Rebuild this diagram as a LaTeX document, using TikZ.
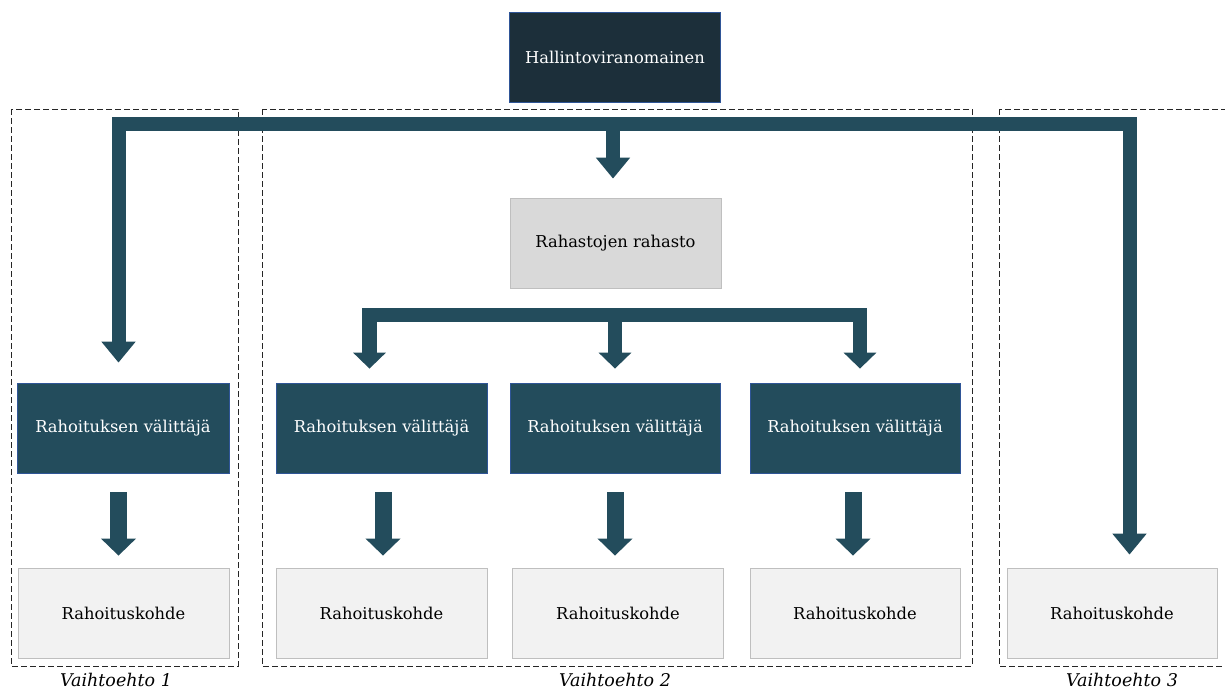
\documentclass[tikz,border=0pt]{standalone}
\usepackage{fontspec}
\setmainfont{DejaVu Serif}
\usetikzlibrary{arrows.meta}
\definecolor{topfill}{HTML}{1C2F3A}
\definecolor{teal}{HTML}{234C5C}
\definecolor{edgeblue}{HTML}{2F5597}
\definecolor{grayfill}{HTML}{D9D9D9}
\definecolor{lightfill}{HTML}{F2F2F2}
\definecolor{grayedge}{HTML}{BFBFBF}
\tikzset{
  boxbase/.style={minimum width=211pt, minimum height=90pt, inner sep=0pt, font=\fontsize{16.3}{18}\selectfont},
  topbox/.style={boxbase, fill=topfill, draw=edgeblue, line width=0.8pt, text=white},
  fundbox/.style={boxbase, fill=grayfill, draw=grayedge, line width=0.8pt, text=black},
  midbox/.style={boxbase, fill=teal, draw=edgeblue, line width=0.8pt, text=white},
  leafbox/.style={boxbase, fill=lightfill, draw=grayedge, line width=0.8pt, text=black},
  groupbox/.style={draw=black!85, line width=0.8pt, dash pattern=on 6pt off 3pt},
  grouplabel/.style={font=\fontsize{17.5}{19}\selectfont\itshape, inner sep=0pt},
  bigarrow/.style={draw=teal, line width=14pt, line join=miter, line cap=butt, -{Triangle[width=33pt,length=21pt]}},
  midarrow/.style={draw=teal, line width=14.5pt, line join=miter, line cap=butt, -{Triangle[width=32pt,length=16pt]}},
  smallarrow/.style={draw=teal, line width=17pt, line cap=butt, -{Triangle[width=34pt,length=17pt]}},
}
\begin{document}
\begin{tikzpicture}[x=1pt,y=-1pt]
\useasboundingbox (0,0) rectangle (1225,689);
\clip (0,0) rectangle (1225,689);
% group frames
\draw[groupbox] (11,109) rectangle (238,666);
\draw[groupbox] (262,109) rectangle (972,666);
\draw[groupbox] (999,109) rectangle (1240,666);
\node[grouplabel] (l1) at (116,680) {Vaihtoehto 1};
\node[grouplabel] (l2) at (615,680) {Vaihtoehto 2};
\node[grouplabel] (l3) at (1122,680) {Vaihtoehto 3};
% nodes
\node[topbox] (top) at (615,57) {Hallintoviranomainen};
\node[fundbox] (fund) at (615.5,243) {Rahastojen rahasto};
\node[midbox, minimum width=212pt] (va) at (123,428) {Rahoituksen välittäjä};
\node[midbox] (vb) at (381.5,428) {Rahoituksen välittäjä};
\node[midbox, minimum width=210pt] (vc) at (615,428) {Rahoituksen välittäjä};
\node[midbox, minimum width=210pt] (vd) at (855,428) {Rahoituksen välittäjä};
\node[leafbox] (ka) at (123.5,613) {Rahoituskohde};
\node[leafbox] (kb) at (381.5,613) {Rahoituskohde};
\node[leafbox] (kc) at (618,613) {Rahoituskohde};
\node[leafbox, minimum width=210pt] (kd) at (855,613) {Rahoituskohde};
\node[leafbox, minimum width=210pt] (ke) at (1112,613) {Rahoituskohde};
% connection points
\coordinate (hub) at (613,124);
\coordinate (hubtop) at (613,117);
\coordinate (hub2) at (615,315);
\coordinate (hub2top) at (615,308);
\coordinate (aa) at ([xshift=-4.5pt]va.north);
\coordinate (ae) at ([xshift=17.5pt]ke.north);
\coordinate (ab) at ([xshift=-12pt]vb.north);
\coordinate (ad) at ([xshift=5pt]vd.north);
% main distribution arrows
\draw[bigarrow, shorten >=20pt] (hub) -| (aa);
\draw[bigarrow, shorten >=13pt] (hub) -| (ae);
\draw[bigarrow, shorten >=19pt] (hubtop) -- (hubtop |- fund.north);
% fund distribution arrows
\draw[midarrow, shorten >=14pt] (hub2) -| (ab);
\draw[midarrow, shorten >=14pt] (hub2) -| (ad);
\draw[midarrow, shorten >=14pt] (hub2top) -- (vc.north);
% intermediary to target arrows
\draw[smallarrow, shorten <=19pt, shorten >=12pt] ([xshift=-4.5pt]va.south) -- ([xshift=-4.5pt]va.south |- ka.north);
\draw[smallarrow, shorten <=19pt, shorten >=12pt] ([xshift=1.5pt]vb.south) -- ([xshift=1.5pt]vb.south |- kb.north);
\draw[smallarrow, shorten <=19pt, shorten >=12pt] (vc.south) -- (vc.south |- kc.north);
\draw[smallarrow, shorten <=19pt, shorten >=12pt] ([xshift=-2pt]vd.south) -- ([xshift=-2pt]vd.south |- kd.north);
\end{tikzpicture}
\end{document}
